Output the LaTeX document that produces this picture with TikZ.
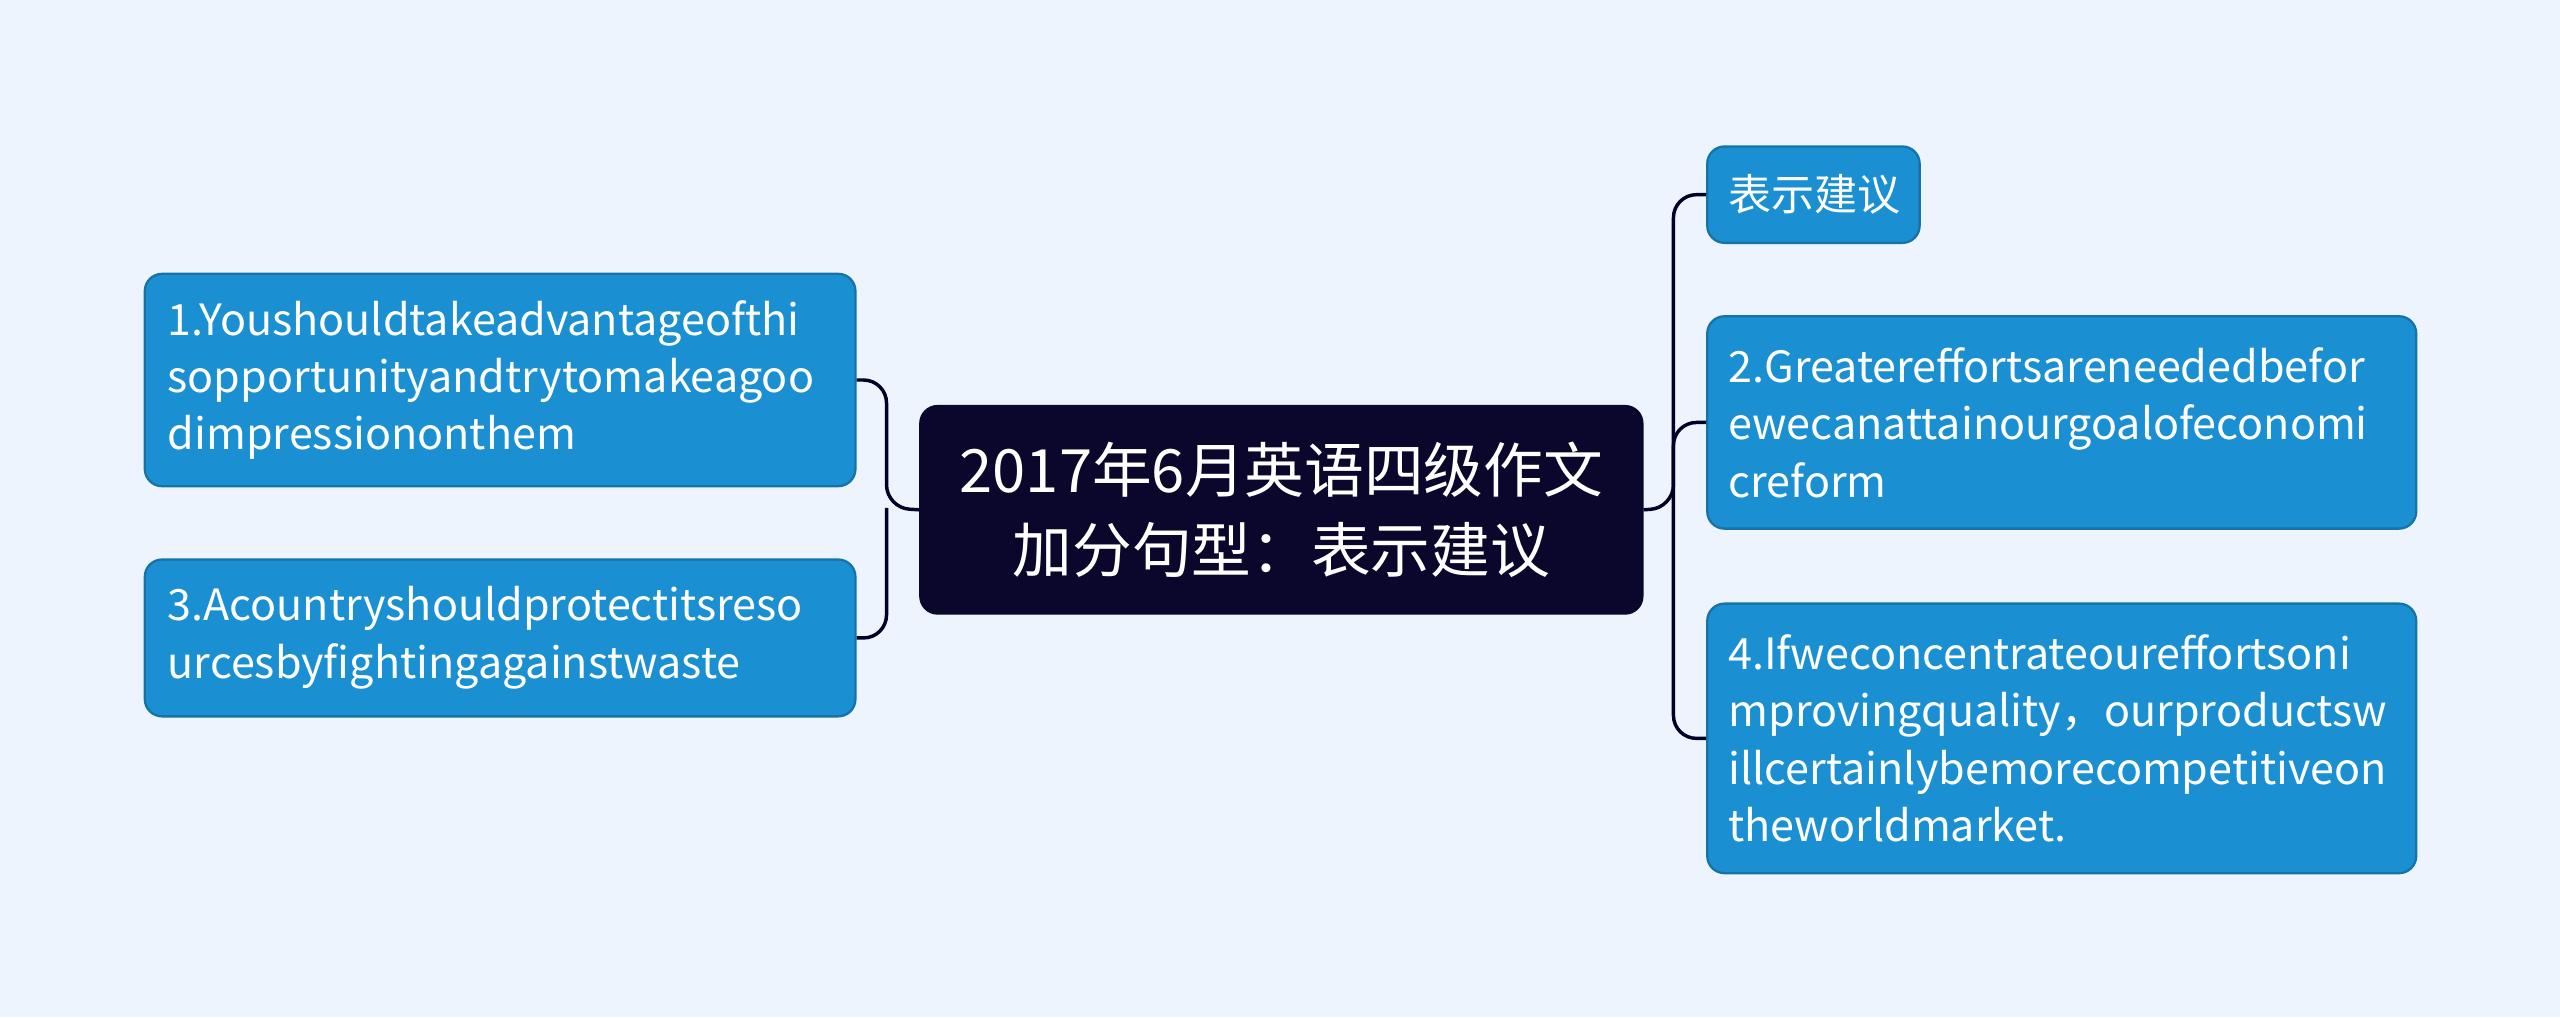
\documentclass[tikz,border=0pt]{standalone}
\usepackage{fontspec}
\setmainfont{Noto Sans CJK SC}
\begin{document}
\begin{tikzpicture}[x=0.01cm,y=-0.01cm,
 leaf/.style={draw=#1!80!black,fill=#1,rounded corners=3pt,text=white,font=\fontsize{7.5}{10}\selectfont,align=left,inner sep=0pt,anchor=north west},
 link/.style={draw=black!85!blue,line width=0.6pt,rounded corners=4pt}]
\fill[color={rgb,255:red,238;green,244;blue,254}] (0,0) rectangle (1568,623);
\definecolor{lb}{RGB}{26,144,210}
\definecolor{cn}{RGB}{10,6,44}
\node[draw=cn,fill=cn,rounded corners=3pt,text=white,inner sep=0pt,anchor=north west,text width=4.42cm,minimum height=1.27cm,align=center,font=\fontsize{10.4}{13.8}\selectfont] (c) at (563,248) {2017年6月英语四级作文\\加分句型：表示建议};
\node[leaf=lb,text width=4.35cm,minimum height=1.30cm] (l1) at (88,167) {\hspace*{0.14cm}\parbox{4.2cm}{1.Youshouldtakeadvantageofthi\\sopportunityandtrytomakeagoo\\dimpressiononthem}};
\node[leaf=lb,text width=4.35cm,minimum height=0.96cm] (l2) at (88,342) {\hspace*{0.14cm}\parbox{4.2cm}{3.Acountryshouldprotectitsreso\\urcesbyfightingagainstwaste}};
\node[leaf=lb,text width=1.30cm,minimum height=0.59cm] (r0) at (1045,89) {\hspace*{0.13cm}\parbox{1.1cm}{表示建议}};
\node[leaf=lb,text width=4.34cm,minimum height=1.30cm] (r1) at (1045,193) {\hspace*{0.13cm}\parbox{4.2cm}{2.Greatereffortsareneededbefor\\ewecanattainourgoalofeconomi\\creform}};
\node[leaf=lb,text width=4.34cm,minimum height=1.65cm] (r2) at (1045,369) {\hspace*{0.13cm}\parbox{4.2cm}{4.Ifweconcentrateoureffortsoni\\mprovingquality，ourproductsw\\illcertainlybemorecompetitiveon\\theworldmarket.}};
\coordinate (jr) at (1025,311);
\coordinate (jl) at (543,311);
\draw[link] (c.east) -- (jr) |- (r0.west);
\draw[link] (jr) |- (r1.west);
\draw[link] (jr) |- (r2.west);
\draw[link] (c.west) -- (jl) |- (l1.east);
\draw[link] (jl) |- (l2.east);
\end{tikzpicture}
\end{document}
